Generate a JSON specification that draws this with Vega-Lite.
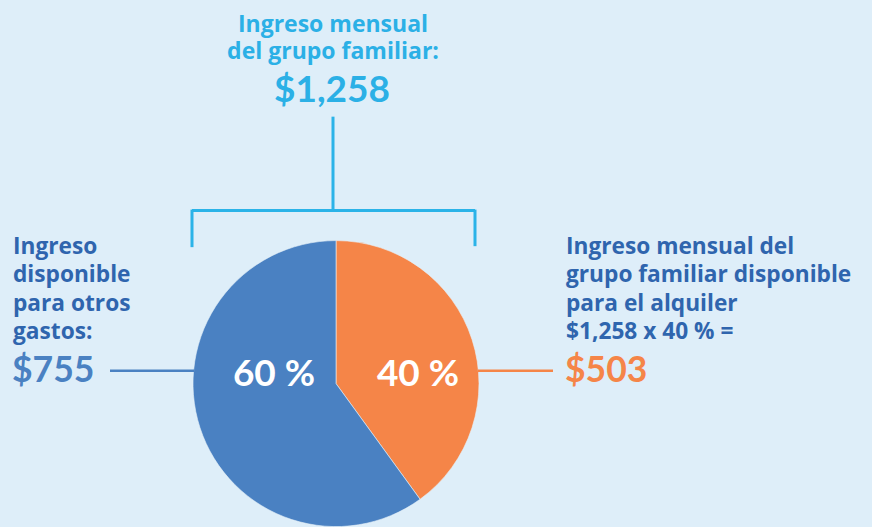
{
  "$schema": "https://vega.github.io/schema/vega-lite/v6.json",
  "width": 872,
  "height": 527,
  "autosize": {"type": "fit", "contains": "padding"},
  "padding": 0,
  "background": "#deeef9",
  "config": {"view": {"stroke": null}, "font": "Lato"},
  "layer": [
    {
      "data": {"values": [
        {"segmento": "Disponible para el alquiler", "porcentaje": 40, "orden": 1, "cx": 336, "cy": 388},
        {"segmento": "Disponible para otros gastos", "porcentaje": 60, "orden": 2, "cx": 336, "cy": 388}
      ]},
      "mark": {"type": "arc", "outerRadius": 143, "stroke": "#e8f1f8", "strokeWidth": 0.6},
      "encoding": {
        "theta": {"field": "porcentaje", "type": "quantitative", "stack": true},
        "order": {"field": "orden", "type": "quantitative"},
        "color": {"field": "segmento", "type": "nominal", "legend": null,
          "scale": {"domain": ["Disponible para el alquiler", "Disponible para otros gastos"], "range": ["#f58548", "#4a81c2"]}},
        "x": {"field": "cx", "type": "quantitative", "scale": {"domain": [0, 872], "nice": false, "zero": false}, "axis": null},
        "y": {"field": "cy", "type": "quantitative", "scale": {"domain": [0, 527], "nice": false, "zero": false, "reverse": true}, "axis": null}
      }
    },
    {
      "data": {"values": [
        {"x": 333, "y": 118, "x2": 333, "y2": 213},
        {"x": 192, "y": 213, "x2": 475, "y2": 213},
        {"x": 192, "y": 212, "x2": 192, "y2": 250},
        {"x": 475, "y": 212, "x2": 475, "y2": 249}
      ]},
      "mark": {"type": "rule", "color": "#2bb3e8", "strokeWidth": 3},
      "encoding": {
        "x": {"field": "x", "type": "quantitative"},
        "y": {"field": "y", "type": "quantitative"},
        "x2": {"field": "x2"},
        "y2": {"field": "y2"}
      }
    },
    {
      "data": {"values": [
        {"lado": "otros", "x": 110, "y": 375, "x2": 194, "y2": 375},
        {"lado": "alquiler", "x": 478, "y": 375, "x2": 553, "y2": 375}
      ]},
      "mark": {"type": "rule", "strokeWidth": 2.5},
      "encoding": {
        "x": {"field": "x", "type": "quantitative"},
        "y": {"field": "y", "type": "quantitative"},
        "x2": {"field": "x2"},
        "y2": {"field": "y2"},
        "color": {"field": "lado", "type": "nominal", "legend": null,
          "scale": {"domain": ["alquiler", "otros"], "range": ["#f58548", "#4a81c2"]}}
      }
    },
    {
      "data": {"values": [
        {"texto": "Ingreso mensual\ndel grupo familiar:", "x": 333, "y": 32}
      ]},
      "mark": {"type": "text", "align": "center", "baseline": "alphabetic", "lineBreak": "\n", "lineHeight": 27.5, "font": "Open Sans", "fontSize": 23, "fontWeight": "bold", "color": "#2bb0e6"},
      "encoding": {
        "x": {"field": "x", "type": "quantitative"},
        "y": {"field": "y", "type": "quantitative"},
        "text": {"field": "texto"}
      }
    },
    {
      "data": {"values": [{"texto": "$1,258", "x": 332, "y": 103}]},
      "mark": {"type": "text", "align": "center", "baseline": "alphabetic", "fontSize": 37, "fontWeight": "bold", "color": "#2bb0e6"},
      "encoding": {
        "x": {"field": "x", "type": "quantitative"},
        "y": {"field": "y", "type": "quantitative"},
        "text": {"field": "texto"}
      }
    },
    {
      "data": {"values": [
        {"texto": "Ingreso\ndisponible\npara otros\ngastos:", "x": 13, "y": 257},
        {"texto": "Ingreso mensual del\ngrupo familiar disponible\npara el alquiler\n$1,258 x 40 % =", "x": 566, "y": 257}
      ]},
      "mark": {"type": "text", "align": "left", "baseline": "alphabetic", "lineBreak": "\n", "lineHeight": 28.3, "font": "Open Sans", "fontSize": 22.7, "fontWeight": "bold", "color": "#2f65ae"},
      "encoding": {
        "x": {"field": "x", "type": "quantitative"},
        "y": {"field": "y", "type": "quantitative"},
        "text": {"field": "texto"}
      }
    },
    {
      "data": {"values": [
        {"texto": "$755", "lado": "otros", "x": 12, "y": 386},
        {"texto": "$503", "lado": "alquiler", "x": 565, "y": 386}
      ]},
      "mark": {"type": "text", "align": "left", "baseline": "alphabetic", "fontSize": 35.5, "fontWeight": "bold"},
      "encoding": {
        "x": {"field": "x", "type": "quantitative"},
        "y": {"field": "y", "type": "quantitative"},
        "text": {"field": "texto"},
        "color": {"field": "lado", "type": "nominal", "legend": null,
          "scale": {"domain": ["alquiler", "otros"], "range": ["#f58548", "#4a81c2"]}}
      }
    },
    {
      "data": {"values": [
        {"texto": "60 %", "x": 274, "y": 390},
        {"texto": "40 %", "x": 418, "y": 390}
      ]},
      "mark": {"type": "text", "align": "center", "baseline": "alphabetic", "fontSize": 37, "fontWeight": "bold", "color": "#ffffff"},
      "encoding": {
        "x": {"field": "x", "type": "quantitative"},
        "y": {"field": "y", "type": "quantitative"},
        "text": {"field": "texto"}
      }
    }
  ]
}
